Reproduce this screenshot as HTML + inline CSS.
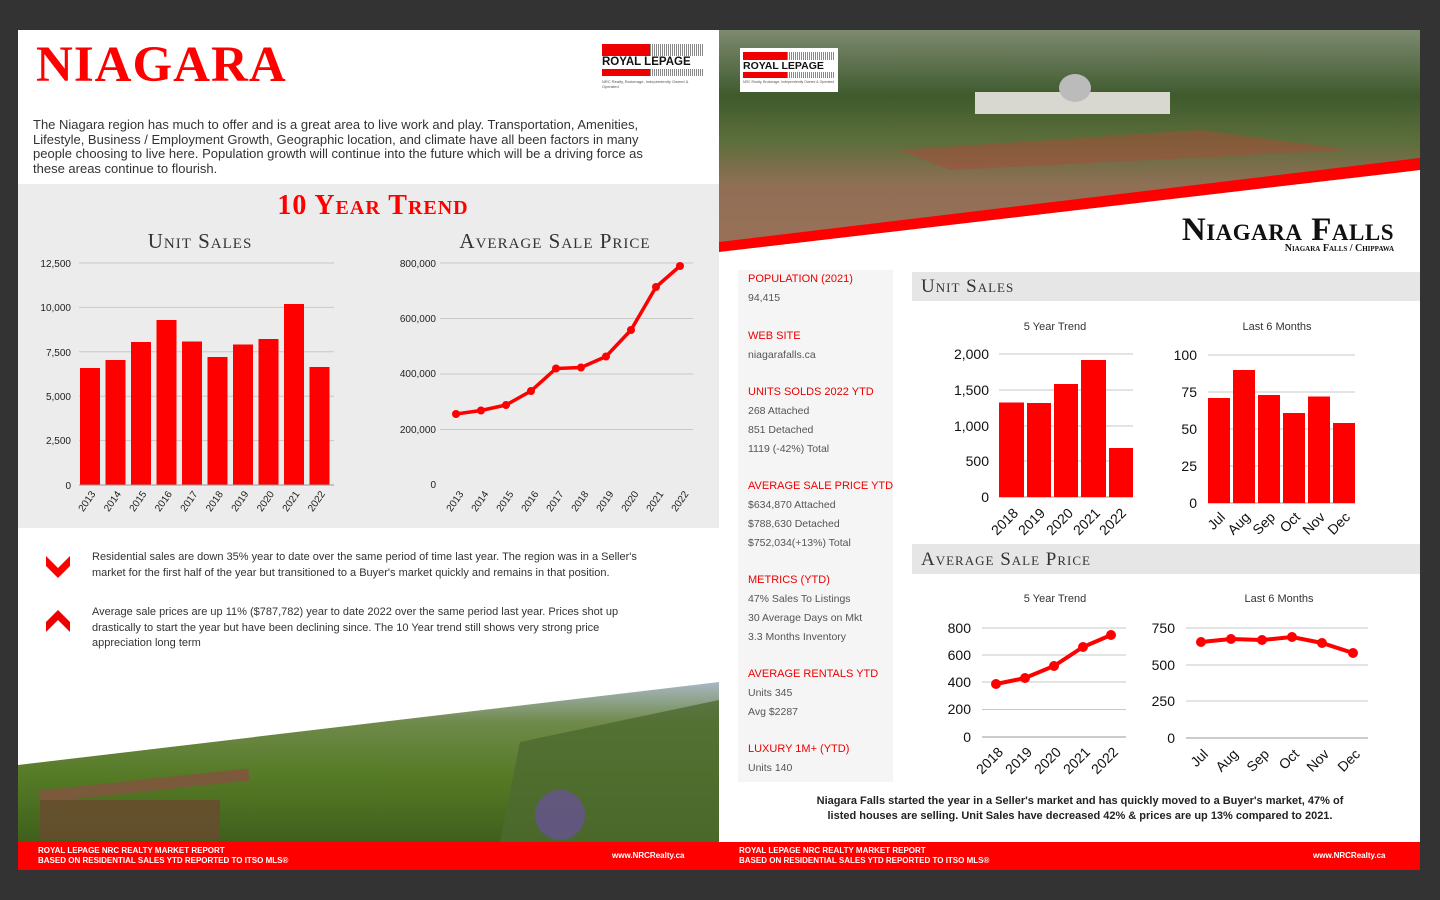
<!DOCTYPE html>
<html><head><meta charset="utf-8"><style>
*{margin:0;padding:0;box-sizing:border-box}
body{width:1440px;height:900px;background:#333;position:relative;overflow:hidden;font-family:"Liberation Sans",sans-serif}
.a{position:absolute}
.sc{font-family:"Liberation Serif",serif;font-variant:small-caps;letter-spacing:1px}
.side div{font-size:10.5px;color:#555;line-height:19px;white-space:nowrap}
.side .h{color:#e00;font-size:11px}
</style></head><body>
<div class="a" style="left:18px;top:30px;width:701px;height:812px;background:#fff"></div>
<div class="a" style="left:719px;top:260px;width:701px;height:582px;background:#fff"></div>
<div class="a" style="left:36px;top:36px;font-family:'Liberation Serif',serif;font-weight:bold;font-size:51px;color:#f00;letter-spacing:1px">NIAGARA</div>
<div class="a" style="left:602px;top:44px;width:102px;height:44px">
 <div style="display:flex;height:12px"><div style="width:48px;background:#e00"></div><div style="flex:1;background:repeating-linear-gradient(90deg,#888 0 1px,#fff 1px 2px)"></div></div>
 <div style="font-size:11.5px;font-weight:bold;color:#111;line-height:13px">ROYAL LEPAGE</div>
 <div style="display:flex;height:7px"><div style="width:48px;background:#e00"></div><div style="flex:1;background:repeating-linear-gradient(90deg,#888 0 1px,#fff 1px 2px)"></div></div>
 <div style="font-size:4px;color:#555;margin-top:3px">NRC Realty, Brokerage, Independently Owned &amp; Operated</div>
</div>
<div class="a" style="left:33px;top:118px;width:680px;font-size:13px;line-height:14.5px;color:#333;white-space:nowrap">The Niagara region has much to offer and is a great area to live work and play.  Transportation, Amenities,<br>Lifestyle, Business / Employment Growth, Geographic location, and climate have all been factors in many<br>people choosing to live here.  Population growth will continue into the future which will be a driving force as<br>these areas continue to flourish.</div>
<div class="a" style="left:18px;top:184px;width:701px;height:344px;background:#ececec"></div>
<div class="a sc" style="left:18px;top:190px;width:710px;text-align:center;font-size:28px;color:#f00;font-weight:bold">10 Year Trend</div>
<div class="a sc" style="left:80px;top:229px;width:240px;text-align:center;font-size:21px;color:#333">Unit Sales</div>
<div class="a sc" style="left:420px;top:229px;width:270px;text-align:center;font-size:21px;color:#333">Average Sale Price</div>
<svg class="a" style="left:0;top:0" width="1440" height="900" font-family="Liberation Sans, sans-serif">
 <g stroke="#c8c8c8" stroke-width="1">
  <line x1="79" x2="334" y1="263" y2="263"/><line x1="79" x2="334" y1="307.4" y2="307.4"/><line x1="79" x2="334" y1="351.8" y2="351.8"/><line x1="79" x2="334" y1="396.2" y2="396.2"/><line x1="79" x2="334" y1="440.6" y2="440.6"/>
  <line x1="440" x2="693" y1="263" y2="263"/><line x1="440" x2="693" y1="318.5" y2="318.5"/><line x1="440" x2="693" y1="374" y2="374"/><line x1="440" x2="693" y1="429.5" y2="429.5"/>
 </g>
 <g font-size="10" fill="#222" text-anchor="end">
  <text x="71" y="267">12,500</text><text x="71" y="311">10,000</text><text x="71" y="356">7,500</text><text x="71" y="400">5,000</text><text x="71" y="444">2,500</text><text x="71" y="489">0</text>
  <text x="436" y="267">800,000</text><text x="436" y="322">600,000</text><text x="436" y="377">400,000</text><text x="436" y="433">200,000</text><text x="436" y="488">0</text>
 </g>
 <g fill="#f00">
  <rect x="80" y="368" width="20" height="117"/><rect x="105.5" y="360" width="20" height="125"/><rect x="131" y="342" width="20" height="143"/><rect x="156.5" y="320" width="20" height="165"/><rect x="182" y="341.5" width="20" height="143.5"/><rect x="207.5" y="357" width="20" height="128"/><rect x="233" y="344.5" width="20" height="140.5"/><rect x="258.5" y="339" width="20" height="146"/><rect x="284" y="304" width="20" height="181"/><rect x="309.5" y="367" width="20" height="118"/>
 </g>
 <line x1="79" x2="334" y1="485" y2="485" stroke="#999"/>
 <g font-size="10" fill="#222" text-anchor="end">
  <text transform="translate(96,494) rotate(-55)">2013</text><text transform="translate(121.5,494) rotate(-55)">2014</text><text transform="translate(147,494) rotate(-55)">2015</text><text transform="translate(172.5,494) rotate(-55)">2016</text><text transform="translate(198,494) rotate(-55)">2017</text><text transform="translate(223.5,494) rotate(-55)">2018</text><text transform="translate(249,494) rotate(-55)">2019</text><text transform="translate(274.5,494) rotate(-55)">2020</text><text transform="translate(300,494) rotate(-55)">2021</text><text transform="translate(325.5,494) rotate(-55)">2022</text>
  <text transform="translate(464,494) rotate(-55)">2013</text><text transform="translate(489,494) rotate(-55)">2014</text><text transform="translate(514,494) rotate(-55)">2015</text><text transform="translate(539,494) rotate(-55)">2016</text><text transform="translate(564,494) rotate(-55)">2017</text><text transform="translate(589,494) rotate(-55)">2018</text><text transform="translate(614,494) rotate(-55)">2019</text><text transform="translate(639,494) rotate(-55)">2020</text><text transform="translate(664,494) rotate(-55)">2021</text><text transform="translate(689,494) rotate(-55)">2022</text>
 </g>
 <polyline fill="none" stroke="#f00" stroke-width="3.5" stroke-linejoin="round" points="456,414 481,410.5 506,405 531,391 556,368.5 581,367.5 606,356.5 631,330 656,287 680,266"/>
 <g fill="#f00"><circle cx="456" cy="414" r="4"/><circle cx="481" cy="410.5" r="4"/><circle cx="506" cy="405" r="4"/><circle cx="531" cy="391" r="4"/><circle cx="556" cy="368.5" r="4"/><circle cx="581" cy="367.5" r="4"/><circle cx="606" cy="356.5" r="4"/><circle cx="631" cy="330" r="4"/><circle cx="656" cy="287" r="4"/><circle cx="680" cy="266" r="4"/></g>
 <path d="M46,556 L58,568 L70,556 L70,566 L58,578 L46,566Z" fill="#f00"/>
 <path d="M46,622 L58,610 L70,622 L70,632 L58,620 L46,632Z" fill="#e00"/>
 <defs>
  <linearGradient id="g1" x1="0" y1="0" x2="0" y2="1"><stop offset="0" stop-color="#a9b8c2"/><stop offset="0.25" stop-color="#6f8a4a"/><stop offset="0.6" stop-color="#557a25"/><stop offset="1" stop-color="#3f5f1c"/></linearGradient>
  <linearGradient id="g2" x1="0" y1="0" x2="0" y2="1"><stop offset="0" stop-color="#7d8a70"/><stop offset="0.3" stop-color="#3f5a2d"/><stop offset="0.5" stop-color="#5b6e3a"/><stop offset="0.7" stop-color="#8f6f55"/><stop offset="1" stop-color="#9a7058"/></linearGradient>
 </defs>
 <polygon points="18,765 719,682 719,842 18,842" fill="url(#g1)"/>
 <rect x="40" y="780" width="210" height="12" fill="#7a5a3a" transform="rotate(-6 140 790)"/>
 <rect x="40" y="800" width="180" height="40" fill="#6a4a30" opacity="0.8"/>
 <polygon points="520,742 719,700 719,842 500,842" fill="#4e6a30" opacity="0.8"/>
 <circle cx="560" cy="815" r="25" fill="#6b4fa0" opacity="0.7"/>
 <polygon points="719,30 1420,30 1420,158 719,250" fill="url(#g2)"/>
 <rect x="975" y="92" width="195" height="22" fill="#d8d8d0"/>
 <ellipse cx="1075" cy="88" rx="16" ry="14" fill="#bbb"/>
 <polygon points="900,150 1200,130 1350,150 950,170" fill="#a94a3a" opacity="0.5"/>
 <polygon points="719,242 1420,158 1420,170 719,252" fill="#f00"/>
 <polygon points="719,252 1420,170 1420,260 719,260" fill="#fff"/>
 <g stroke="#c8c8c8">
  <line x1="999" x2="1133" y1="354" y2="354"/><line x1="999" x2="1133" y1="390" y2="390"/><line x1="999" x2="1133" y1="426" y2="426"/><line x1="999" x2="1133" y1="461" y2="461"/>
  <line x1="1208" x2="1355" y1="355" y2="355"/><line x1="1208" x2="1355" y1="392" y2="392"/><line x1="1208" x2="1355" y1="429" y2="429"/><line x1="1208" x2="1355" y1="466" y2="466"/>
  <line x1="982" x2="1126" y1="628" y2="628"/><line x1="982" x2="1126" y1="655" y2="655"/><line x1="982" x2="1126" y1="682" y2="682"/><line x1="982" x2="1126" y1="709.5" y2="709.5"/>
  <line x1="1186" x2="1368" y1="628" y2="628"/><line x1="1186" x2="1368" y1="665" y2="665"/><line x1="1186" x2="1368" y1="701" y2="701"/>
 </g>
 <g stroke="#999"><line x1="999" x2="1133" y1="497" y2="497"/><line x1="1208" x2="1355" y1="503" y2="503"/><line x1="982" x2="1126" y1="737" y2="737"/><line x1="1186" x2="1368" y1="738" y2="738"/></g>
 <g fill="#f00">
  <rect x="999" y="402.5" width="25" height="94.5"/><rect x="1027" y="403" width="24" height="94"/><rect x="1054" y="384" width="24" height="113"/><rect x="1081" y="360" width="25" height="137"/><rect x="1109" y="448" width="24" height="49"/>
  <rect x="1208" y="398" width="22" height="105"/><rect x="1233" y="370" width="22" height="133"/><rect x="1258" y="395" width="22" height="108"/><rect x="1283" y="413" width="22" height="90"/><rect x="1308" y="396.5" width="22" height="106.5"/><rect x="1333" y="423" width="22" height="80"/>
 </g>
 <polyline fill="none" stroke="#f00" stroke-width="4" points="996,684 1025,678 1054,666 1083,647 1111,635"/>
 <polyline fill="none" stroke="#f00" stroke-width="4" points="1201,642 1231,639 1262,640 1292,637 1322,643 1353,653"/>
 <g fill="#f00"><circle cx="996" cy="684" r="5"/><circle cx="1025" cy="678" r="5"/><circle cx="1054" cy="666" r="5"/><circle cx="1083" cy="647" r="5"/><circle cx="1111" cy="635" r="5"/>
 <circle cx="1201" cy="642" r="5"/><circle cx="1231" cy="639" r="5"/><circle cx="1262" cy="640" r="5"/><circle cx="1292" cy="637" r="5"/><circle cx="1322" cy="643" r="5"/><circle cx="1353" cy="653" r="5"/></g>
 <g font-size="14" fill="#111" text-anchor="end">
  <text x="989" y="359">2,000</text><text x="989" y="395">1,500</text><text x="989" y="431">1,000</text><text x="989" y="466">500</text><text x="989" y="502">0</text>
  <text x="1197" y="360">100</text><text x="1197" y="397">75</text><text x="1197" y="434">50</text><text x="1197" y="471">25</text><text x="1197" y="508">0</text>
  <text x="971" y="633">800</text><text x="971" y="660">600</text><text x="971" y="687">400</text><text x="971" y="714">200</text><text x="971" y="742">0</text>
  <text x="1175" y="633">750</text><text x="1175" y="670">500</text><text x="1175" y="706">250</text><text x="1175" y="743">0</text>
 </g>
 <g font-size="14" fill="#111" text-anchor="end">
  <text transform="translate(1019,514) rotate(-45)">2018</text><text transform="translate(1046,514) rotate(-45)">2019</text><text transform="translate(1074,514) rotate(-45)">2020</text><text transform="translate(1101,514) rotate(-45)">2021</text><text transform="translate(1127,514) rotate(-45)">2022</text>
  <text transform="translate(1226,518) rotate(-45)">Jul</text><text transform="translate(1251,518) rotate(-45)">Aug</text><text transform="translate(1276,518) rotate(-45)">Sep</text><text transform="translate(1301,518) rotate(-45)">Oct</text><text transform="translate(1326,518) rotate(-45)">Nov</text><text transform="translate(1351,518) rotate(-45)">Dec</text>
  <text transform="translate(1004,753) rotate(-45)">2018</text><text transform="translate(1033,753) rotate(-45)">2019</text><text transform="translate(1062,753) rotate(-45)">2020</text><text transform="translate(1091,753) rotate(-45)">2021</text><text transform="translate(1119,753) rotate(-45)">2022</text>
  <text transform="translate(1209,755) rotate(-45)">Jul</text><text transform="translate(1239,755) rotate(-45)">Aug</text><text transform="translate(1270,755) rotate(-45)">Sep</text><text transform="translate(1300,755) rotate(-45)">Oct</text><text transform="translate(1330,755) rotate(-45)">Nov</text><text transform="translate(1361,755) rotate(-45)">Dec</text>
 </g>
 <g font-size="11" fill="#333" text-anchor="middle">
  <text x="1055" y="330">5 Year Trend</text><text x="1277" y="330">Last 6 Months</text>
  <text x="1055" y="602">5 Year Trend</text><text x="1279" y="602">Last 6 Months</text>
 </g>
</svg>
<div class="a" style="left:92px;top:550px;width:620px;font-size:11px;line-height:15.5px;color:#333;white-space:nowrap">Residential sales are down 35% year to date over the same period of time last year.  The region was in a Seller's<br>market for the first half of the year but transitioned to a Buyer's market quickly and remains in that position.</div>
<div class="a" style="left:92px;top:605px;width:620px;font-size:11px;line-height:15.5px;color:#333;white-space:nowrap">Average sale prices are up 11% ($787,782) year to date 2022 over the same period last year.  Prices shot up<br>drastically to start the year but have been declining since.  The 10 Year trend still shows very strong price<br>appreciation long term</div>
<div class="a" style="left:18px;top:842px;width:1402px;height:28px;background:#f00"></div>
<div class="a" style="left:38px;top:846px;font-size:8px;font-weight:bold;color:#fff;line-height:10px">ROYAL LEPAGE NRC REALTY MARKET REPORT<br>BASED ON RESIDENTIAL SALES YTD REPORTED TO ITSO MLS®</div>
<div class="a" style="left:612px;top:851px;font-size:8px;font-weight:bold;color:#fff">www.NRCRealty.ca</div>
<div class="a" style="left:739px;top:846px;font-size:8px;font-weight:bold;color:#fff;line-height:10px">ROYAL LEPAGE NRC REALTY MARKET REPORT<br>BASED ON RESIDENTIAL SALES YTD REPORTED TO ITSO MLS®</div>
<div class="a" style="left:1313px;top:851px;font-size:8px;font-weight:bold;color:#fff">www.NRCRealty.ca</div>
<div class="a" style="left:740px;top:48px;width:98px;height:44px;background:#fff;padding:4px 3px">
 <div style="display:flex;height:8px"><div style="width:44px;background:#e00"></div><div style="flex:1;background:repeating-linear-gradient(90deg,#888 0 1px,#fff 1px 2px)"></div></div>
 <div style="font-size:10.5px;font-weight:bold;color:#111;line-height:12px">ROYAL LEPAGE</div>
 <div style="display:flex;height:6px"><div style="width:44px;background:#e00"></div><div style="flex:1;background:repeating-linear-gradient(90deg,#888 0 1px,#fff 1px 2px)"></div></div>
 <div style="font-size:3.5px;color:#555;margin-top:2px">NRC Realty, Brokerage, Independently Owned &amp; Operated</div>
</div>
<div class="a sc" style="left:1080px;top:212px;width:314px;text-align:right;font-size:33px;font-weight:bold;color:#111;letter-spacing:0.5px">Niagara Falls</div>
<div class="a sc" style="left:1150px;top:243px;width:244px;text-align:right;font-size:10px;font-weight:bold;color:#111;letter-spacing:0">Niagara Falls / Chippawa</div>
<div class="a side" style="left:738px;top:270px;width:155px;height:512px;background:#f5f5f5;padding:0 10px">
 <div class="h">POPULATION (2021)</div><div>94,415</div>
 <div class="h" style="margin-top:19px">WEB SITE</div><div>niagarafalls.ca</div>
 <div class="h" style="margin-top:18px">UNITS SOLDS 2022 YTD</div><div>268 Attached</div><div>851 Detached</div><div>1119 (-42%) Total</div>
 <div class="h" style="margin-top:18px">AVERAGE SALE PRICE YTD</div><div>$634,870 Attached</div><div>$788,630 Detached</div><div>$752,034(+13%) Total</div>
 <div class="h" style="margin-top:18px">METRICS (YTD)</div><div>47% Sales To Listings</div><div>30 Average Days on Mkt</div><div>3.3 Months Inventory</div>
 <div class="h" style="margin-top:18px">AVERAGE RENTALS YTD</div><div>Units 345</div><div>Avg $2287</div>
 <div class="h" style="margin-top:18px">LUXURY 1M+ (YTD)</div><div>Units 140</div>
</div>
<div class="a sc" style="left:912px;top:272px;width:508px;height:29px;background:#e6e6e6;padding-left:9px;font-size:19px;line-height:30px;color:#333">Unit Sales</div>
<div class="a sc" style="left:912px;top:544px;width:508px;height:30px;background:#e6e6e6;padding-left:9px;font-size:19px;line-height:31px;color:#333">Average Sale Price</div>
<div class="a" style="left:740px;top:794px;width:680px;text-align:center;font-size:11px;font-weight:bold;color:#222;line-height:15px">Niagara Falls started the year in a Seller's market and has quickly moved to a Buyer's market, 47% of<br>listed houses are selling.  Unit Sales have decreased 42% &amp; prices are up 13% compared to 2021.</div>
</body></html>
